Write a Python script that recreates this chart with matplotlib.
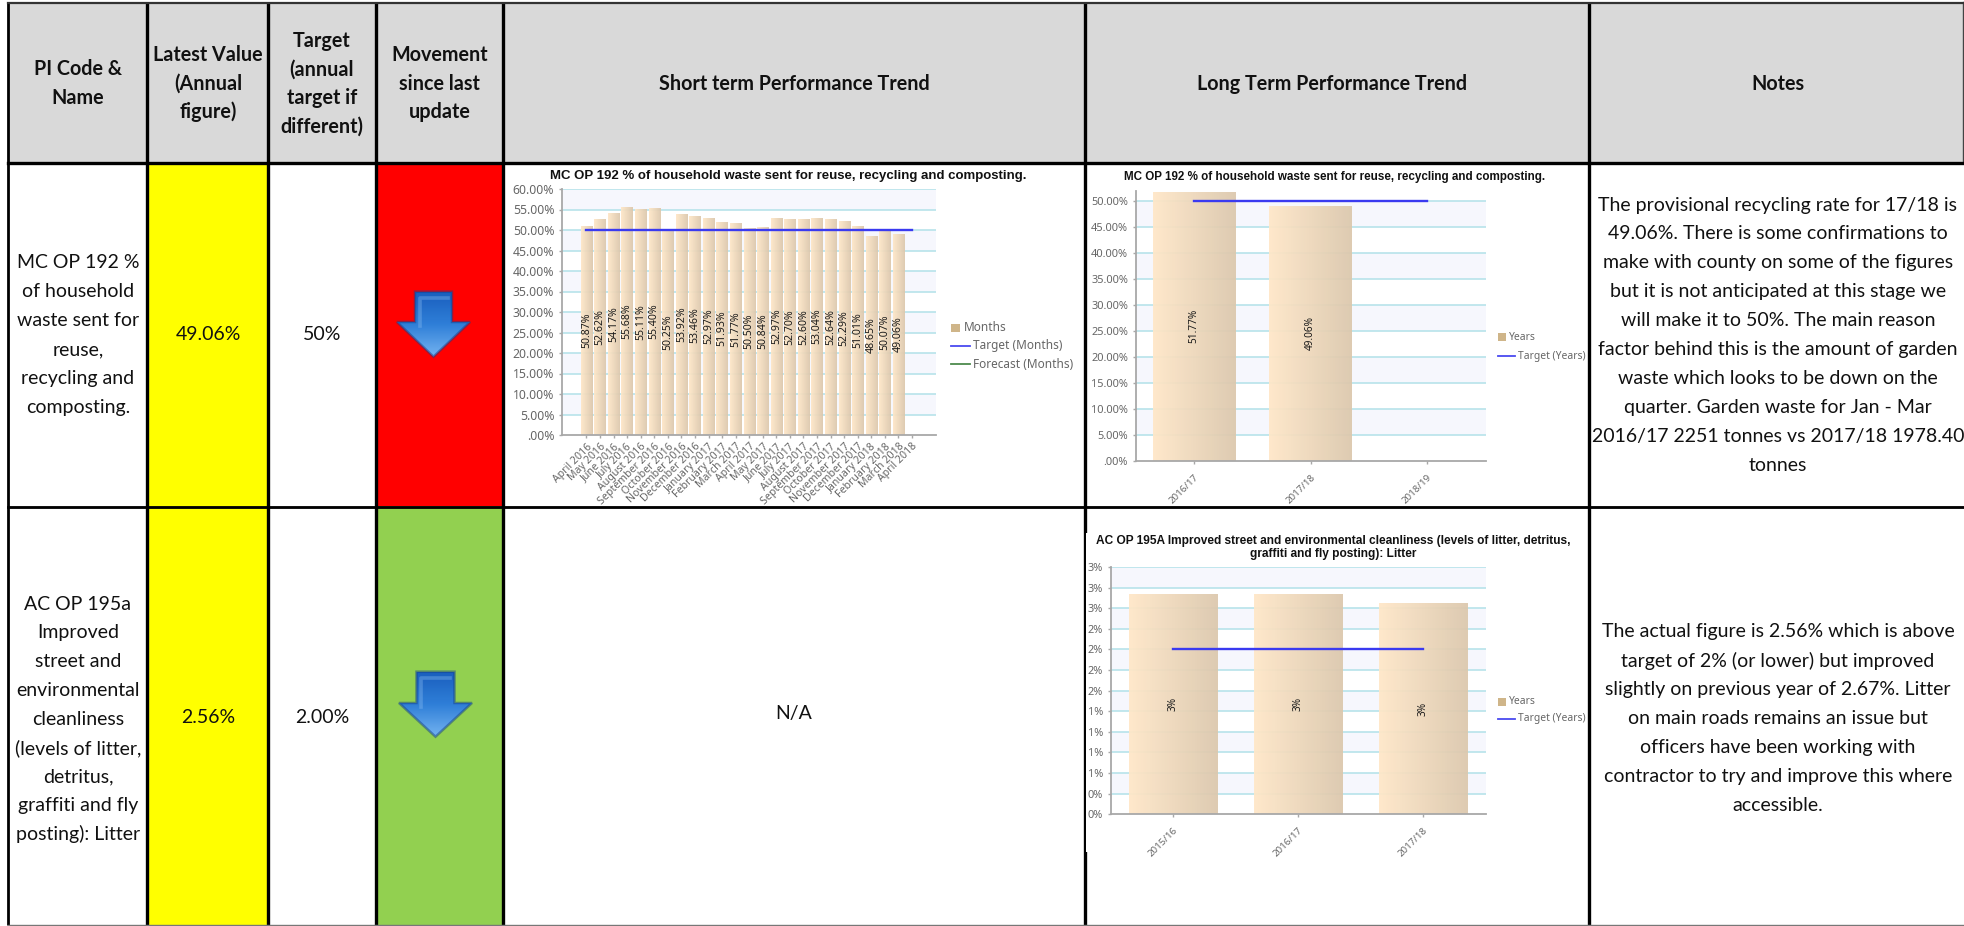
#!/usr/bin/env python3
"""Performance indicator table with short and long term trend charts."""

import matplotlib
matplotlib.use("Agg")
import matplotlib.pyplot as plt
import numpy as np
from matplotlib.colors import LinearSegmentedColormap
from matplotlib.patches import Polygon, Rectangle

W, H = 1965, 926

# Table contents
HEADERS = [
    ["PI Code &", "Name"],
    ["Latest Value", "(Annual", "figure)"],
    ["Target", "(annual", "target if", "different)"],
    ["Movement", "since last", "update"],
    ["Short term Performance Trend"],
    ["Long Term Performance Trend"],
    ["Notes"],
]
NAME_1 = ["MC OP 192 %", "of household", "waste sent for", "reuse,", "recycling and", "composting."]
NAME_2 = ["AC OP 195a", "Improved", "street and", "environmental", "cleanliness",
          "(levels of litter,", "detritus,", "graffiti and fly", "posting): Litter"]
LATEST = ["49.06%", "2.56%"]
TARGET = ["50%", "2.00%"]
NOTES_1 = [
    "The provisional recycling rate for 17/18 is",
    "49.06%. There is some confirmations to",
    "make with county on some of the figures",
    "but it is not anticipated at this stage we",
    "will make it to 50%. The main reason",
    "factor behind this is the amount of garden",
    "waste which looks to be down on the",
    "quarter. Garden waste for Jan - Mar",
    "2016/17 2251 tonnes vs 2017/18 1978.40",
    "tonnes",
]
NOTES_2 = [
    "The actual figure is 2.56% which is above",
    "target of 2% (or lower) but improved",
    "slightly on previous year of 2.67%. Litter",
    "on main roads remains an issue but",
    "officers have been working with",
    "contractor to try and improve this where",
    "accessible.",
]

# Short term chart
MONTHS = ["April 2016", "May 2016", "June 2016", "July 2016", "August 2016", "September 2016",
          "October 2016", "November 2016", "December 2016", "January 2017", "February 2017",
          "March 2017", "April 2017", "May 2017", "June 2017", "July 2017", "August 2017",
          "September 2017", "October 2017", "November 2017", "December 2017", "January 2018",
          "February 2018", "March 2018", "April 2018"]
MONTH_VALUES = [50.87, 52.62, 54.17, 55.68, 55.11, 55.40, 50.25, 53.92, 53.46, 52.97, 51.93, 51.77,
                50.50, 50.84, 52.97, 52.70, 52.60, 53.04, 52.64, 52.29, 51.01, 48.65, 50.07, 49.06]
MONTH_TARGET = [50.0] * 25
PCT_TICKS = [0, 5, 10, 15, 20, 25, 30, 35, 40, 45, 50, 55, 60]
PCT_LABELS = [".00%", "5.00%", "10.00%", "15.00%", "20.00%", "25.00%", "30.00%", "35.00%",
              "40.00%", "45.00%", "50.00%", "55.00%", "60.00%"]

# Long term charts
YEARS_192 = ["2016/17", "2017/18", "2018/19"]
VALUES_192 = [51.77, 49.06]
TARGET_192 = [50.0, 50.0, 50.0]
YEARS_195 = ["2015/16", "2016/17", "2017/18"]
VALUES_195 = [2.67, 2.67, 2.56]
TARGET_195 = [2.0, 2.0, 2.0]
TICKS_195 = [0, 0.25, 0.5, 0.75, 1, 1.25, 1.5, 1.75, 2, 2.25, 2.5, 2.75, 3]
LABELS_195 = ["0%", "0%", "1%", "1%", "1%", "1%", "2%", "2%", "2%", "2%", "3%", "3%", "3%"]

TITLE_192 = "MC OP 192 % of household waste sent for reuse, recycling and composting."
TITLE_195 = ("AC OP 195A Improved street and environmental cleanliness (levels of litter, detritus,\n"
             "graffiti and fly posting): Litter")

BODY_FONT = "Lato"
CHART_FONT = "Noto Sans"
TITLE_FONT = "Liberation Sans"
GREY_TEXT = "#666666"
BAR_CMAP = LinearSegmentedColormap.from_list("bar", ["#ffe7c8", "#dcc8ad"])
ARROW_CMAP = LinearSegmentedColormap.from_list("arrow", ["#1a5fbe", "#2f7fd8", "#74b3f0"])

fig = plt.figure(figsize=(W / 100, H / 100), dpi=100, facecolor="white")
page = fig.add_axes([0, 0, 1, 1])
page.set_xlim(0, W)
page.set_ylim(H, 0)
page.axis("off")


def cell(x0, y0, x1, y1, color):
    page.add_patch(Rectangle((x0, y0), x1 - x0, y1 - y0, facecolor=color, edgecolor="none", zorder=1))


def text_lines(lines, cx, first_y, step, **kw):
    kw.setdefault("family", BODY_FONT)
    kw.setdefault("fontsize", 14.0)
    for i, line in enumerate(lines):
        page.text(cx, first_y + i * step, line, ha="center", va="center", color="#111111", zorder=5, **kw)


def arrow(cx, top, shoulder, tip, half_shaft, half_head):
    pts = [(cx - half_shaft, top), (cx + half_shaft, top), (cx + half_shaft, shoulder),
           (cx + half_head, shoulder), (cx, tip), (cx - half_head, shoulder), (cx - half_shaft, shoulder)]
    shape = Polygon(pts, closed=True, facecolor="none", edgecolor="#15408c", lw=1.8, alpha=0.5, zorder=4)
    page.add_patch(shape)
    grad = np.linspace(0, 1, 64).reshape(-1, 1)
    img = page.imshow(grad, extent=(cx - half_head, cx + half_head, tip, top), cmap=ARROW_CMAP,
                      aspect="auto", zorder=3)
    img.set_clip_path(shape)
    # soft highlight inside the shaft
    page.plot([cx - half_shaft + 5, cx - half_shaft + 5, cx + half_shaft - 4],
              [shoulder + 4, top + 6, top + 6], color="#8fc0f2", lw=2.6, alpha=0.35, zorder=4)
    page.set_xlim(0, W)
    page.set_ylim(H, 0)


def chart_axes(left, top, right, bottom):
    ax = fig.add_axes([left / W, 1 - bottom / H, (right - left) / W, (bottom - top) / H])
    ax.patch.set_alpha(0)
    for side in ("top", "right"):
        ax.spines[side].set_visible(False)
    for side in ("left", "bottom"):
        ax.spines[side].set_color("#a8a8a8")
        ax.spines[side].set_linewidth(1.3)
    return ax


def draw_chart(ax, cats, values, target, ticks, tick_labels, bar_width, ylim, xlim,
               label_fmt, sizes):
    # alternating bands, starting light on the second interval from the bottom
    for i in range(1, len(ticks) - 1, 2):
        ax.axhspan(ticks[i], ticks[i + 1], facecolor="#f6f7fd", edgecolor="none", zorder=0)
    for t in ticks[1:]:
        ax.axhline(t, color="#b7e3ea", lw=1.2, zorder=1)

    x = np.arange(len(values))
    bars = ax.bar(x, values, width=bar_width, color="none", edgecolor="none", zorder=2)
    grad = np.linspace(0, 1, 64).reshape(1, -1)
    for xi, v, bar in zip(x, values, bars):
        img = ax.imshow(grad, extent=(xi - bar_width / 2, xi + bar_width / 2, 0, v), cmap=BAR_CMAP,
                        aspect="auto", alpha=0.94, zorder=2)
        img.set_clip_path(bar)
        ax.text(xi, v / 2, label_fmt(v), rotation=90, ha="center", va="center",
                fontsize=sizes["bar"], family=CHART_FONT, color="#1a1a1a", zorder=4)
    ax.plot(np.arange(len(target)), target, color="#3a3af0", lw=1.7, zorder=3)

    ax.set_xlim(*xlim)
    ax.set_ylim(*ylim)
    ax.set_yticks(ticks)
    ax.set_yticklabels(tick_labels, fontsize=sizes["y"], family=CHART_FONT, color=GREY_TEXT)
    ax.set_xticks(np.arange(len(cats)))
    ax.set_xticklabels(cats, fontsize=sizes["x"], family=CHART_FONT, color=GREY_TEXT,
                       rotation=45, ha="right", rotation_mode="anchor")
    ax.tick_params(axis="y", length=2.5, width=1, color="#a8a8a8", pad=3)
    ax.tick_params(axis="x", length=2.5, width=1, color="#a8a8a8", pad=sizes.get("pad", 3))


def legend(swatch_y, line_ys, swatch_x, line_x, text_x0, text_x1, labels, size):
    page.add_patch(Rectangle((swatch_x[0], swatch_y - 4), swatch_x[1] - swatch_x[0], 8,
                             facecolor="#cfb589", edgecolor="none", zorder=5))
    page.text(text_x0, swatch_y, labels[0], fontsize=size, family=CHART_FONT, color=GREY_TEXT,
              va="center", zorder=5)
    colors = ["#4a4af0", "#4d8a4d"]
    for y, label, c in zip(line_ys, labels[1:], colors):
        page.plot(line_x, [y, y], color=c, lw=1.3, zorder=5)
        page.text(text_x1, y, label, fontsize=size, family=CHART_FONT, color=GREY_TEXT,
                  va="center", zorder=5)


# Cell fills
cell(8, 2, 1964, 162, "#d9d9d9")
cell(147, 162, 268, 926, "#ffff00")
cell(376, 162, 503, 506, "#ff0000")
cell(376, 506, 503, 926, "#92d050")

# Grid lines
LINE_W = 2.4
for xv in [147, 268, 376, 503, 1085, 1589]:
    page.plot([xv, xv], [2, 925], color="black", lw=LINE_W, zorder=6, solid_capstyle="butt")
page.plot([8.5, 8.5], [2, 925], color="black", lw=2, zorder=6, solid_capstyle="butt")
page.plot([1963, 1963], [2, 162], color="#444444", lw=1, zorder=6)
page.plot([8, 1964], [163, 163], color="black", lw=LINE_W, zorder=6)
page.plot([8, 1964], [506.5, 506.5], color="black", lw=LINE_W * 0.85, zorder=6)
page.plot([8, 1964], [3, 3], color="#333333", lw=1.6, zorder=6)
page.plot([8, 1964], [925, 925], color="#777777", lw=1, zorder=6)
page.add_patch(Rectangle((1086.3, 533), 4, 319, facecolor="white", edgecolor="none", zorder=7))

# Header row
HEADER_X = [78, 208, 322, 439.5, 794, 1332, 1778]
for lines, cx in zip(HEADERS, HEADER_X):
    text_lines(lines, cx, 83.5 - (len(lines) - 1) * 14.3, 28.6, fontweight="bold", fontsize=14.2)

# Row text
text_lines(NAME_1, 78, 263, 28.8)
text_lines(NAME_2, 78, 604, 28.8)
text_lines([LATEST[0]], 208, 335, 0)
text_lines([LATEST[1]], 208, 717.5, 0)
text_lines([TARGET[0]], 322, 335, 0)
text_lines([TARGET[1]], 322, 717.5, 0)
text_lines(["N/A"], 794, 713, 0)
text_lines(NOTES_1, 1778, 205, 28.9)
text_lines(NOTES_2, 1778, 631.7, 28.9)

arrow(433.5, 291.7, 322, 356.7, 18.5, 36.5)
arrow(435.5, 671.7, 703, 736.7, 19, 36.5)

# Short term chart
ax1 = chart_axes(562, 189, 936, 435)
draw_chart(ax1, MONTHS, MONTH_VALUES, MONTH_TARGET, PCT_TICKS, PCT_LABELS, 0.83, (0, 60), (-1.8, 25.77),
           lambda v: f"{v:.2f}%", {"bar": 7.6, "y": 8.8, "x": 7.6, "pad": 2})
page.text(788, 176.5, TITLE_192, ha="center", va="center", family=TITLE_FONT, fontweight="bold",
          fontsize=9.55, color="#111111", zorder=5)
legend(327.5, [346, 364], (951, 960), [951.5, 970], 963.5, 973,
       ["Months", "Target (Months)", "Forecast (Months)"], 8.5)

# Long term, recycling
ax2 = chart_axes(1135.7, 191, 1485.7, 461)
draw_chart(ax2, YEARS_192, VALUES_192, TARGET_192, PCT_TICKS[:11], PCT_LABELS[:11], 0.71, (0, 51.9), (-0.5, 2.5),
           lambda v: f"{v:.2f}%", {"bar": 7.2, "y": 7.9, "x": 7, "pad": 6})
page.text(1335, 177, TITLE_192, ha="center", va="center", family=TITLE_FONT, fontweight="bold",
          fontsize=8.35, color="#111111", zorder=5)
legend(337, [356], (1497.7, 1506), [1498, 1515], 1509, 1517.7, ["Years", "Target (Years)"], 7.4)

# Long term, litter
ax3 = chart_axes(1110.7, 567, 1485.7, 814.3)
draw_chart(ax3, YEARS_195, VALUES_195, TARGET_195, TICKS_195, LABELS_195, 0.71, (0, 3), (-0.5, 2.5),
           lambda v: f"{v:.0f}%", {"bar": 7.2, "y": 7.9, "x": 7, "pad": 6})
page.text(1333, 547.5, TITLE_195, ha="center", va="center", family=TITLE_FONT, fontweight="bold",
          fontsize=8.6, color="#111111", zorder=5, linespacing=1.05)
legend(702, [719], (1497.7, 1506), [1498, 1515], 1509, 1517.7, ["Years", "Target (Years)"], 7.4)

fig.savefig("out.png", dpi=100, facecolor="white")
